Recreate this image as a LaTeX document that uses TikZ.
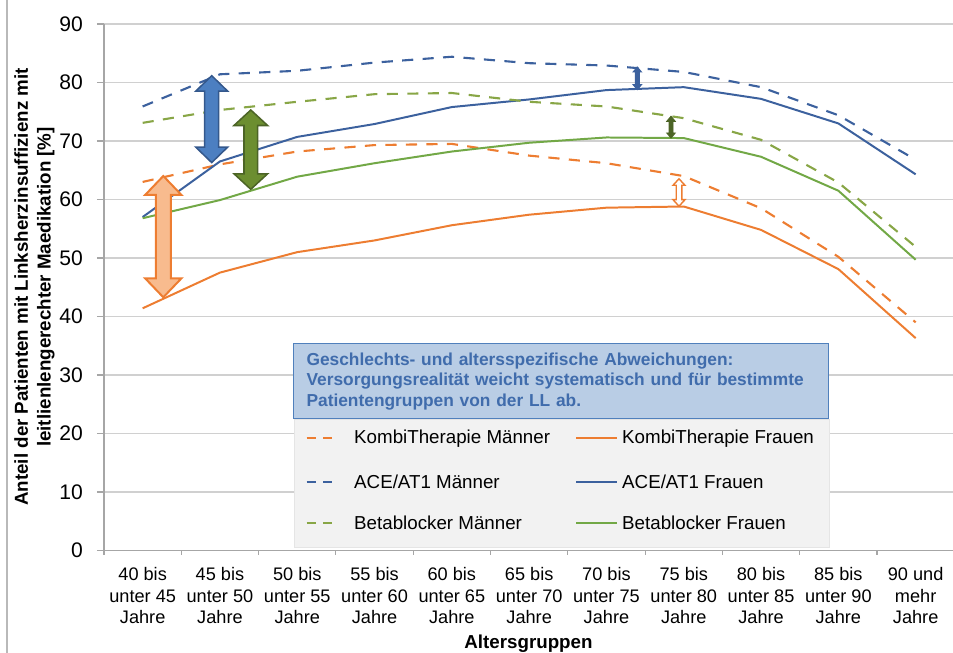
\documentclass[tikz,border=0pt]{standalone}
\usepackage{fontspec}
\setmainfont{Liberation Sans}
\usetikzlibrary{positioning}
\definecolor{kombi}{RGB}{237,125,49}
\definecolor{kombilight}{RGB}{248,187,142}
\definecolor{ace}{RGB}{60,97,158}
\definecolor{acefill}{RGB}{76,127,193}
\definecolor{acedark}{RGB}{52,88,140}
\definecolor{beta}{RGB}{114,168,70}
\definecolor{betadash}{RGB}{136,166,70}
\definecolor{betafill}{RGB}{108,142,48}
\definecolor{betadark}{RGB}{76,100,38}
\definecolor{gridgray}{RGB}{208,208,208}
\definecolor{headfill}{RGB}{185,205,229}
\definecolor{headline}{RGB}{80,128,188}
\definecolor{headtext}{RGB}{64,108,172}
\definecolor{legfill}{RGB}{242,242,242}
% #2 x, #3 top tip, #4 bottom tip, #5 half shaft, #6 half head, #7 head length
\newcommand{\updown}[7][]{\draw[#1] ({#2},{#3}) -- ({#2+#6},{#3-#7}) -- ({#2+#5},{#3-#7}) -- ({#2+#5},{#4+#7}) -- ({#2+#6},{#4+#7}) -- ({#2},{#4}) -- ({#2-#6},{#4+#7}) -- ({#2-#5},{#4+#7}) -- ({#2-#5},{#3-#7}) -- ({#2-#6},{#3-#7}) -- cycle;}
\begin{document}
\begin{tikzpicture}[x=0.3mm,y=0.3mm,
gridline/.style={gridgray,line width=0.9pt},
axisline/.style={gray!70,line width=0.9pt},
menline/.style={line width=1.8pt,dash pattern=on 9.5pt off 8pt},
womenline/.style={line width=1.7pt},
legdash/.style={line width=1.8pt,dash pattern=on 7.9pt off 6.2pt},
ticklabel/.style={anchor=east,inner sep=0pt,font=\fontsize{18}{21}\selectfont},
catlabel/.style={anchor=base,align=center,inner sep=0pt,font=\fontsize{15.5}{18.7}\selectfont},
legtext/.style={anchor=west,inner sep=0pt,font=\fontsize{16}{19}\selectfont}]
\useasboundingbox (0,0) rectangle (953,653);
\draw[gray!55,line width=1.5pt] (7,0) -- (7,653);

\begin{scope}[xshift=19.605mm,yshift=30.75mm,x=23.19mm,y=1.755mm]
\foreach \v in {10,20,...,90}{
\draw[gridline] (0.5,\v) -- (11.48,\v);
}
\foreach \v in {0,10,...,90}{
\draw[axisline] (0.4094,\v) -- (0.5,\v);
\node[ticklabel] (y\v) at (0.228,\v) {\v};
}
\draw[axisline] (0.5,0) -- (11.48,0);
\draw[axisline] (0.5,0) -- (0.5,90);
\foreach \i in {0.5,1.5,...,10.5}{
\draw[axisline] (\i,0) -- (\i,-0.855);
}
\foreach \i/\a/\b in {1/40/45,2/45/50,3/50/55,4/55/60,5/60/65,6/65/70,7/70/75,8/75/80,9/80/85,10/85/90}{
\node[catlabel] (x\i) at (\i,-12.56) {\a{} bis\\unter \b\\Jahre};
}
\node[catlabel] (x11) at (11,-12.56) {90 und\\mehr\\Jahre};
\end{scope}

\node[anchor=north west,draw=headline,fill=headfill,line width=1pt,text=headtext,align=left,text width=152.9mm,inner xsep=3.8mm,minimum height=22.5mm,font=\bfseries\fontsize{14.8}{17.7}\selectfont] (head) at (293.3,309.7) {Geschlechts- und altersspezifische Abweichungen:\\Versorgungsrealität weicht systematisch und für bestimmte\\Patientengruppen von der LL ab.};
\node[below=0pt of head,fill=legfill,draw=gray!20,inner sep=0pt,minimum width=160.5mm,minimum height=38.2mm] (legbody) {};

\node[legtext] (lkm) at (354,214.7) {KombiTherapie Männer};
\node[legtext] (lam) at (354,171.3) {ACE/AT1 Männer};
\node[legtext] (lbm) at (354,129.7) {Betablocker Männer};
\node[legtext] (lkf) at (622,214.7) {KombiTherapie Frauen};
\node[legtext] (laf) at (622,171.3) {ACE/AT1 Frauen};
\node[legtext] (lbf) at (622,129.7) {Betablocker Frauen};
\draw[kombi,legdash] ([xshift=-14.2mm]lkm.west) -- ([xshift=-6.2mm]lkm.west);
\draw[ace,legdash] ([xshift=-14.2mm]lam.west) -- ([xshift=-6.2mm]lam.west);
\draw[betadash,legdash] ([xshift=-14.2mm]lbm.west) -- ([xshift=-6.2mm]lbm.west);
\draw[kombi,womenline] ([xshift=-13.8mm]lkf.west) -- ([xshift=-1.5mm]lkf.west);
\draw[ace,womenline] ([xshift=-13.8mm]laf.west) -- ([xshift=-1.5mm]laf.west);
\draw[beta,womenline] ([xshift=-13.8mm]lbf.west) -- ([xshift=-1.5mm]lbf.west);

\begin{scope}[xshift=19.605mm,yshift=30.75mm,x=23.19mm,y=1.755mm,line join=round]
\draw[kombi,menline] plot coordinates {(1,63.0) (2,66.0) (3,68.2) (4,69.3) (5,69.5) (6,67.5) (7,66.2) (8,64.0) (9,58.5) (10,50.2) (11,39.0)};
\draw[kombi,womenline] plot coordinates {(1,41.4) (2,47.5) (3,51.0) (4,53.0) (5,55.6) (6,57.4) (7,58.6) (8,58.8) (9,54.8) (10,48.1) (11,36.3)};
\draw[ace,menline] plot coordinates {(1,75.9) (2,81.4) (3,82.0) (4,83.4) (5,84.4) (6,83.3) (7,82.9) (8,81.8) (9,79.2) (10,74.4) (11,66.8)};
\draw[ace,womenline] plot coordinates {(1,57.0) (2,66.5) (3,70.7) (4,72.9) (5,75.8) (6,77.1) (7,78.7) (8,79.2) (9,77.2) (10,73.0) (11,64.3)};
\draw[betadash,menline] plot coordinates {(1,73.1) (2,75.3) (3,76.7) (4,78.0) (5,78.2) (6,76.7) (7,75.9) (8,73.9) (9,70.2) (10,62.9) (11,51.9)};
\draw[beta,womenline] plot coordinates {(1,56.8) (2,59.9) (3,63.9) (4,66.2) (5,68.2) (6,69.7) (7,70.6) (8,70.5) (9,67.3) (10,61.5) (11,49.7)};
\end{scope}

\updown[fill=kombilight,draw=kombi,line width=1.7pt]{163.3}{477}{355.7}{7.5}{18.2}{19}
\updown[fill=acefill,draw=acedark,line width=1.3pt]{211.7}{577.3}{490.4}{7}{16}{15.5}
\updown[fill=betafill,draw=betadark,line width=1.3pt]{250.8}{543}{463.7}{6.8}{16.8}{15.5}
\updown[fill=ace,draw=ace,line width=0.8pt]{637.3}{586}{563.3}{2}{4.2}{5}
\updown[fill=betadark,draw=betadark,line width=0.8pt]{671}{536.7}{515}{2}{4.2}{5}
\updown[fill=white,draw=kombi,line width=1.2pt]{679}{474.2}{446.8}{2.8}{6}{6.5}

\node[rotate=90,align=center,font=\bfseries\fontsize{16}{19.5}\selectfont] (ytitle) at (34.5,366) {Anteil der Patienten mit Linksherzinsuffizienz mit\\leitlienlengerechter Maedikation [\%]};
\node[anchor=base,inner sep=0pt,font=\bfseries\fontsize{16}{19}\selectfont] (xtitle) at (528.5,4.7) {Altersgruppen};
\end{tikzpicture}
\end{document}
